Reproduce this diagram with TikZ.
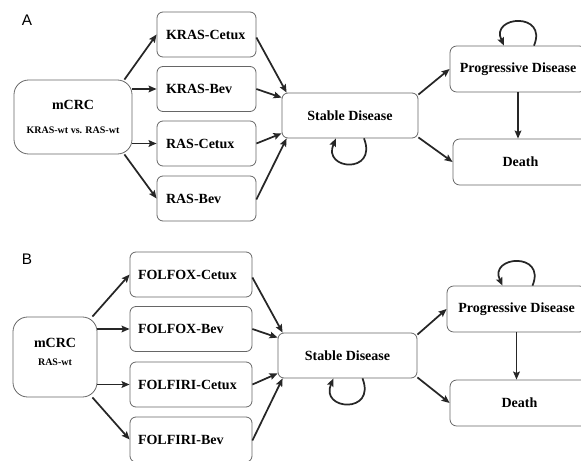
\documentclass[tikz,border=0pt]{standalone}
\usepackage{fontspec}
\setmainfont{Liberation Serif}
\setsansfont{Liberation Sans}
\usetikzlibrary{arrows.meta,calc}

\tikzset{
	stbox/.style={draw=black!60, line width=0.6pt, rounded corners=4.5pt, inner sep=0pt, align=center, font=\fontsize{10.5}{12.6}\selectfont\bfseries},
	armbox/.style={stbox, align=left, minimum height=33.75pt},
	flow/.style={draw=black!85, line width=1.3pt, -{Stealth[length=6pt,width=5pt,inset=1pt]}},
	panel/.style={font=\sffamily\fontsize{11.5}{13}\selectfont, inner sep=0pt},
}

\begin{document}
\begin{tikzpicture}[x=0.75pt,y=0.75pt,yscale=-1,xscale=1]
	\useasboundingbox (0,0) rectangle (581,460);
	
	%%%%%%%% Panel A
	% Text Node
	\node[panel] (labA) at (27,20) {A};
	
	% Boxes
	\node[stbox, rounded corners=11pt, minimum width=88.5pt, minimum height=55.5pt] (mcrcA) at (73,117) {mCRC\\[5pt]{\fontsize{7.5}{9}\selectfont KRAS-wt vs. RAS-wt}};
	\node[armbox, text width=60.75pt, inner xsep=6.75pt] (kcA) at (206.5,34.5) {KRAS-Cetux};
	\node[armbox, text width=60.75pt, inner xsep=6.75pt] (kbA) at (206.5,89) {KRAS-Bev};
	\node[armbox, text width=60.75pt, inner xsep=6.75pt] (rcA) at (206.5,143.5) {RAS-Cetux};
	\node[armbox, text width=60.75pt, inner xsep=6.75pt] (rbA) at (206.5,198.5) {RAS-Bev};
	\node[stbox, minimum width=102pt, minimum height=33.75pt] (sdA) at (350,115.5) {Stable Disease};
	\node[stbox, rounded corners=5pt, minimum width=102pt, minimum height=34.5pt] (pdA) at (518,69) {Progressive Disease};
	\node[stbox, rounded corners=5pt, minimum width=101.25pt, minimum height=34.5pt] (deathA) at (520.5,162) {Death};
	
	% Arrows
	\draw[flow] ($(mcrcA.north east)+(-8,0)$) -- (kcA.west);
	\draw[flow] (mcrcA.east |- kbA.west) -- (kbA.west);
	\draw[flow] (mcrcA.east |- rcA.west) -- (rcA.west);
	\draw[flow] ($(mcrcA.south east)+(-8,0)$) -- (rbA.west);
	\draw[flow] ($(kcA.east)+(0,3)$) -- ($(sdA.north west)+(5,0)$);
	\draw[flow] (kbA.east) -- ($(sdA.north west)+(0,5)$);
	\draw[flow] (rcA.east) -- ($(sdA.south west)+(0,-5)$);
	\draw[flow] ($(rbA.east)+(0,1)$) -- ($(sdA.south west)+(5,0)$);
	\draw[flow] ($(sdA.north east)+(0,2)$) -- (pdA.west);
	\draw[flow] ($(sdA.south east)+(0,-1)$) -- (deathA.west);
	\draw[flow] (pdA.south) -- (pdA.south |- deathA.north);
	% Loops
	\draw[flow] ($(sdA.south)+(14,0)$) .. controls +(14,36) and +(-14,32) .. ($(sdA.south)+(-14,0)$);
	\draw[flow] ($(pdA.north)+(16,0)$) .. controls +(14,-34) and +(-14,-30) .. ($(pdA.north)+(-14,0)$);
	
	%%%%%%%% Panel B
	% Text Node
	\node[panel] (labB) at (27,259.5) {B};
	
	% Boxes
	\node[stbox, rounded corners=11pt, minimum width=63pt, minimum height=60pt, text depth=7.5pt] (mcrcB) at (55,357) {mCRC\\[1pt]{\fontsize{7.5}{9}\selectfont RAS-wt}};
	\node[armbox, text width=79.5pt, inner xsep=6pt] (fcB) at (191,274.5) {FOLFOX-Cetux};
	\node[armbox, text width=79.5pt, inner xsep=6pt] (fbB) at (191,329) {FOLFOX-Bev};
	\node[armbox, text width=79.5pt, inner xsep=6pt] (icB) at (191,384.5) {FOLFIRI-Cetux};
	\node[armbox, text width=79.5pt, inner xsep=6pt] (ibB) at (191,439.5) {FOLFIRI-Bev};
	\node[stbox, minimum width=104.25pt, minimum height=33.75pt] (sdB) at (347.5,355.5) {Stable Disease};
	\node[stbox, rounded corners=5pt, minimum width=104.25pt, minimum height=34.5pt] (pdB) at (516.5,309) {Progressive Disease};
	\node[stbox, rounded corners=5pt, minimum width=104.25pt, minimum height=34.5pt] (deathB) at (519.5,403) {Death};
	
	% Arrows
	\draw[flow] ($(mcrcB.north east)+(-5,0)$) -- (fcB.west);
	\draw[flow] (mcrcB.east |- fbB.west) -- (fbB.west);
	\draw[flow] (mcrcB.east |- icB.west) -- (icB.west);
	\draw[flow] ($(mcrcB.south east)+(-5,0)$) -- (ibB.west);
	\draw[flow] ($(fcB.east)+(0,3)$) -- ($(sdB.north west)+(5,0)$);
	\draw[flow] (fbB.east) -- ($(sdB.north west)+(0,5)$);
	\draw[flow] (icB.east) -- ($(sdB.south west)+(0,-5)$);
	\draw[flow] ($(ibB.east)+(0,1)$) -- ($(sdB.south west)+(5,0)$);
	\draw[flow] ($(sdB.north east)+(0,2)$) -- (pdB.west);
	\draw[flow] ($(sdB.south east)+(0,-1)$) -- (deathB.west);
	\draw[flow] (pdB.south) -- (pdB.south |- deathB.north);
	% Loops
	\draw[flow] ($(sdB.south)+(15,0)$) .. controls +(14,36) and +(-14,32) .. ($(sdB.south)+(-14,0)$);
	\draw[flow] ($(pdB.north)+(16,0)$) .. controls +(14,-34) and +(-14,-30) .. ($(pdB.north)+(-14,0)$);
\end{tikzpicture}
\end{document}
